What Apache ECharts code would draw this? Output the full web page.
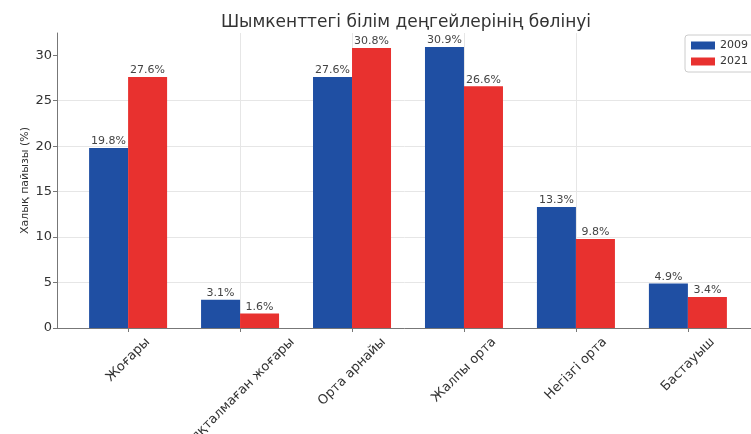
<!DOCTYPE html>
<html><head><meta charset="utf-8">
<script src="https://cdn.jsdelivr.net/npm/echarts@6/dist/echarts.min.js"></script>
<style>html,body{margin:0;padding:0;background:#fff}#c{width:751px;height:434px}</style>
</head><body><div id="c"></div>
<script>
const categories = ['Жоғары', 'Аяқталмаған жоғары', 'Орта арнайы', 'Жалпы орта', 'Негізгі орта', 'Бастауыш'];
const values2009 = [19.8, 3.1, 27.6, 30.9, 13.3, 4.9];
const values2021 = [27.6, 1.6, 30.8, 26.6, 9.8, 3.4];
const yTicks = [0, 5, 10, 15, 20, 25, 30];
const seriesNames = ['2009', '2021'];
const titleText = 'Шымкенттегі білім деңгейлерінің бөлінуі';
const yName = 'Халық пайызы (%)';

const FONT = 'DejaVu Sans';
const xFontSize = 13;
const cv = document.createElement('canvas').getContext('2d');
cv.font = xFontSize + 'px "' + FONT + '"';
const rich = {};
categories.forEach((c, i) => {
  const L = cv.measureText(c).width;
  rich['c' + i] = { fontFamily: FONT, fontSize: xFontSize, color: '#333', padding: [L / 2, L / 2, 0, 0] };
});
const catIdx = categories.map((_, i) => i);

const chart = echarts.init(document.getElementById('c'), null, { renderer: 'canvas' });
chart.setOption({
  animation: false,
  backgroundColor: '#fff',
  title: {
    text: titleText, left: 401, top: 9, textAlign: 'center',
    textStyle: { fontFamily: FONT, fontSize: 17, fontWeight: 'normal', color: '#333' }
  },
  legend: {
    data: seriesNames, orient: 'vertical', left: 685, top: 35,
    itemWidth: 24, itemHeight: 8, itemGap: 5,
    padding: [5, 8, 5, 6],
    borderColor: '#ccc', borderWidth: 1, borderRadius: 3, backgroundColor: '#fff',
    textStyle: { fontFamily: FONT, fontSize: 11, color: '#333' },
    icon: 'rect'
  },
  grid: { left: 57, top: 33, width: 702, height: 295, containLabel: false, outerBoundsMode: 'none' },
  xAxis: {
    type: 'value', min: -0.635, max: 5.635,
    axisLine: { show: true, onZero: false, lineStyle: { color: '#777', width: 1 } },
    axisTick: { show: true, length: 4, lineStyle: { color: '#777' }, customValues: catIdx },
    splitLine: { show: true, showMinLine: false, showMaxLine: false, lineStyle: { color: '#e6e6e6', width: 1 } },
    axisLabel: {
      customValues: catIdx, rotate: 45, align: 'center', verticalAlign: 'middle', margin: 12,
      formatter: v => { const i = Math.round(v); return '{c' + i + '|' + categories[i] + '}'; },
      rich: rich
    }
  },
  yAxis: {
    type: 'value', min: 0, max: 32.45, interval: 5,
    name: yName, nameLocation: 'middle', nameGap: 26, nameRotate: 90, nameMoveOverlap: false,
    nameTextStyle: { fontFamily: FONT, fontSize: 11, color: '#333' },
    axisLine: { show: true, onZero: false, lineStyle: { color: '#777', width: 1 } },
    axisTick: { show: true, length: 4, lineStyle: { color: '#777' }, customValues: yTicks },
    splitLine: { show: true, showMinLine: false, showMaxLine: false, lineStyle: { color: '#e6e6e6', width: 1 } },
    axisLabel: { customValues: yTicks, fontFamily: FONT, fontSize: 13, color: '#333', margin: 5 }
  },
  series: [
    {
      name: seriesNames[0], type: 'bar', barWidth: 39, barGap: '0%',
      itemStyle: { color: '#1f4fa3' },
      label: { show: true, position: 'top', distance: 1, fontFamily: FONT, fontSize: 11, color: '#444',
        formatter: p => p.value[1].toFixed(1) + '%' },
      data: values2009.map((v, i) => [i, v])
    },
    {
      name: seriesNames[1], type: 'bar', barWidth: 39, barGap: '0%',
      itemStyle: { color: '#e8312f' },
      label: { show: true, position: 'top', distance: 1, fontFamily: FONT, fontSize: 11, color: '#444',
        formatter: p => p.value[1].toFixed(1) + '%' },
      data: values2021.map((v, i) => [i, v])
    }
  ]
});
</script></body></html>
